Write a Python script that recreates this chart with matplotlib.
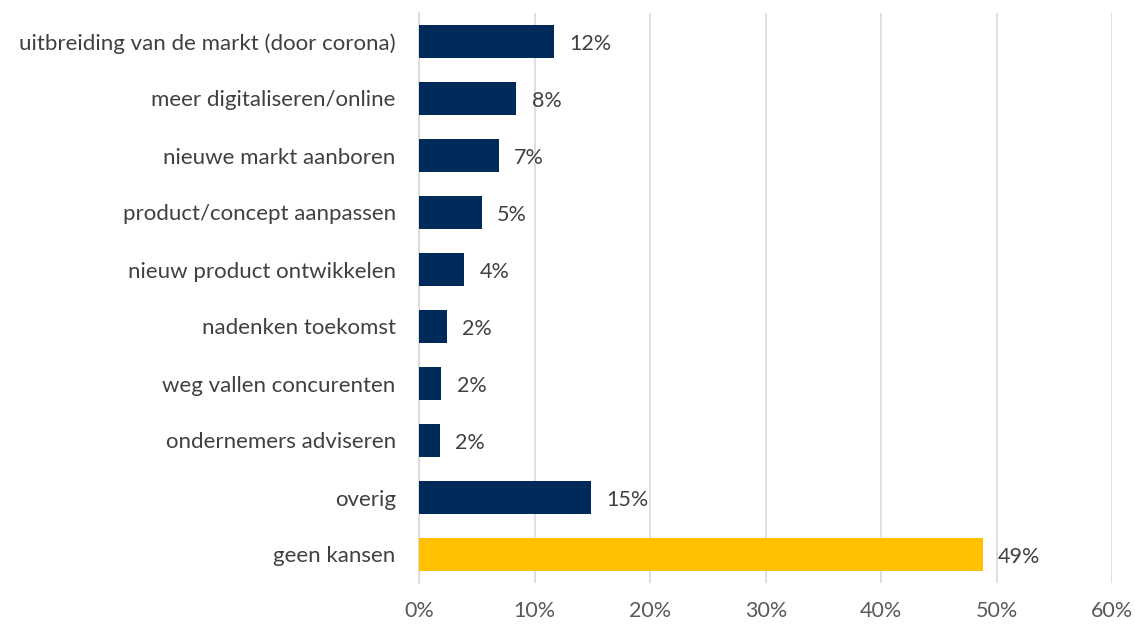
import matplotlib.pyplot as plt
from matplotlib.ticker import PercentFormatter

# ── DATA ──────────────────────────────────────────────────────────────────
categories = [
    'uitbreiding van de markt (door corona)',
    'meer digitaliseren/online',
    'nieuwe markt aanboren',
    'product/concept aanpassen',
    'nieuw product ontwikkelen',
    'nadenken toekomst',
    'weg vallen concurenten',
    'ondernemers adviseren',
    'overig',
    'geen kansen',
]
values = [0.117, 0.084, 0.069, 0.054, 0.039, 0.024, 0.019, 0.018, 0.149, 0.488]
labels = ['12%', '8%', '7%', '5%', '4%', '2%', '2%', '2%', '15%', '49%']

navy = '#002A5A'
yellow = '#FFC000'
colors = [navy] * 9 + [yellow]

plt.rcParams['font.family'] = ['Lato', 'DejaVu Sans']

fig = plt.figure(figsize=(11.35, 6.3), dpi=100, facecolor='w')
ax = fig.add_axes([419.3 / 1135, 1 - 583 / 630, (1112.3 - 419.3) / 1135, 570 / 630])

ypos = list(range(len(categories)))
bars = ax.barh(ypos, values, height=0.57, color=colors, zorder=3)

for b, lab in zip(bars, labels):
    ax.annotate(lab, (b.get_width(), b.get_y() + b.get_height() / 2),
                xytext=(11, -2), textcoords='offset points',
                ha='left', va='center', fontsize=15.5, color='#404040')

ax.set_ylim(len(categories) - 0.5, -0.5)
ax.set_xlim(0, 0.6)
ax.set_xticks([0, 0.1, 0.2, 0.3, 0.4, 0.5, 0.6])
ax.xaxis.set_major_formatter(PercentFormatter(1.0, decimals=0))
ax.set_yticks(ypos)
ax.set_yticklabels(categories)

ax.grid(True, axis='x', color='#D9D9D9', linewidth=1.2, zorder=0)
for s in ['top', 'right', 'bottom']:
    ax.spines[s].set_visible(False)
ax.spines['left'].set_color('#D9D9D9')
ax.spines['left'].set_linewidth(1.2)

ax.tick_params(axis='x', length=0, labelsize=15.5, colors='#595959', pad=13)
ax.tick_params(axis='y', length=0, labelsize=16, labelcolor='#404040', pad=17)

fig.savefig('out.png', dpi=100)
